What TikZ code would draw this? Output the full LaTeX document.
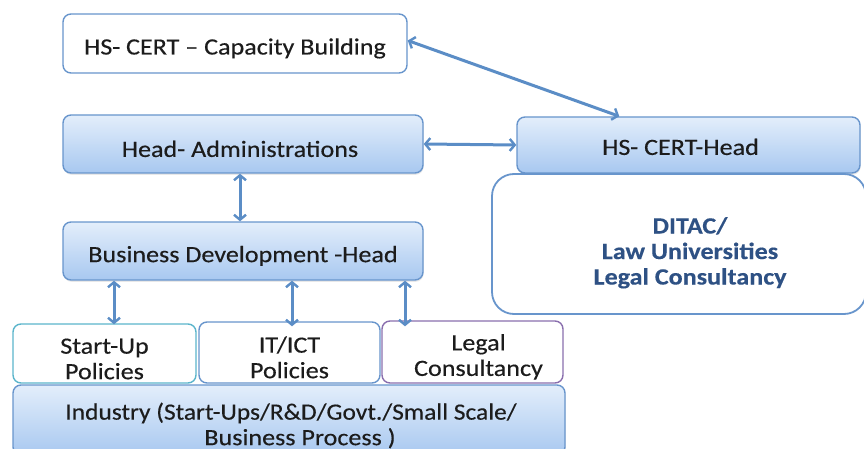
\documentclass[tikz,border=0pt]{standalone}
\usepackage{fontspec}
\setmainfont{Carlito}[FakeStretch=1.12, FakeBold=0.35]
\usetikzlibrary{arrows.meta,shadows}
\definecolor{boxline}{HTML}{6895CC}
\definecolor{arrowc}{HTML}{5B8DC6}
\definecolor{tealline}{HTML}{5BB5CB}
\definecolor{purpline}{HTML}{8A6FAE}
\definecolor{gtop}{HTML}{E3EEFB}
\definecolor{gbot}{HTML}{A8C8F0}
\definecolor{txt}{HTML}{1C1C1C}
\definecolor{ditac}{HTML}{2E5184}
\newcommand{\lowr}[1]{\rule{0pt}{#1}}
\tikzset{
  base/.style={rectangle, inner sep=0pt, rounded corners=8pt, line width=1.4pt,
    text=txt, align=center, font=\fontsize{23.3}{25.5}\selectfont},
  plainbox/.style={base, draw=boxline, fill=white},
  gradbox/.style={base, draw=boxline, top color=gtop, bottom color=gbot,
    drop shadow={opacity=0.18, shadow xshift=0.6pt, shadow yshift=-1.8pt}},
  arr/.style={draw=arrowc, line width=3pt,
    {Straight Barb[length=5pt,width=12pt,line width=2.4pt]}-{Straight Barb[length=5pt,width=12pt,line width=2.4pt]}}
}
\begin{document}
\begin{tikzpicture}[x=1pt,y=-1pt]
\useasboundingbox (0,0) rectangle (864,449);
\node[plainbox, minimum width=344pt, minimum height=59pt] (cap) at (235,43.5) {\lowr{26pt}HS- CERT – Capacity Building};
\node[gradbox, minimum width=360pt, minimum height=58pt] (admin) at (243,144) {\lowr{26pt}Head- Administrations\hspace{6pt}};
\node[gradbox, minimum width=343pt, minimum height=56pt] (cert) at (688.5,145) {\lowr{20pt}HS- CERT-Head\hspace{16pt}};
\node[plainbox, rounded corners=22pt, line width=1.8pt, minimum width=374pt, minimum height=140pt,
  font=\fontsize{23.3}{25.5}\selectfont\bfseries, text=ditac] (ditac) at (679,244) {\lowr{34pt}\hspace{22pt}DITAC/\\\hspace{22pt}Law Universities\\\hspace{22pt}Legal Consultancy};
\node[gradbox, minimum width=360pt, minimum height=58pt] (busdev) at (243,251) {\lowr{26pt}Business Development -Head};
\node[gradbox, minimum width=552pt, minimum height=70pt] (ind) at (289,420) {\lowr{28pt}\hspace{4pt}\scalebox{0.975}[1]{Industry (Start-Ups/R\&D/Govt./Small Scale/}\\\hspace{22pt}Business Process )};
\node[plainbox, draw=tealline, minimum width=183pt, minimum height=59pt] (startup) at (104.5,353.5) {\lowr{26pt}Start-Up\\Policies};
\node[plainbox, minimum width=181pt, minimum height=61pt] (ict) at (289.5,352.5) {\lowr{26pt}IT/ICT\\Policies};
\node[plainbox, draw=purpline, minimum width=181pt, minimum height=62pt] (legal) at (472.5,352) {\lowr{26pt}\hspace{12pt}Legal\\\hspace{12pt}Consultancy};
\draw[arr] ([yshift=3pt]cap.east) -- ([xshift=103pt]cert.north west);
\draw[arr] (admin.east) -- (cert.west);
\draw[arr] (admin.south -| 240,0) -- (busdev.north -| 240,0);
\draw[arr] (busdev.south -| 114,0) -- ([yshift=-1pt]startup.north -| 114,0);
\draw[arr] (busdev.south -| 292,0) -- ([yshift=-5pt]ict.north -| 292,0);
\draw[arr] (busdev.south -| 405,0) -- ([yshift=-6pt]legal.north -| 405,0);
\end{tikzpicture}
\end{document}
